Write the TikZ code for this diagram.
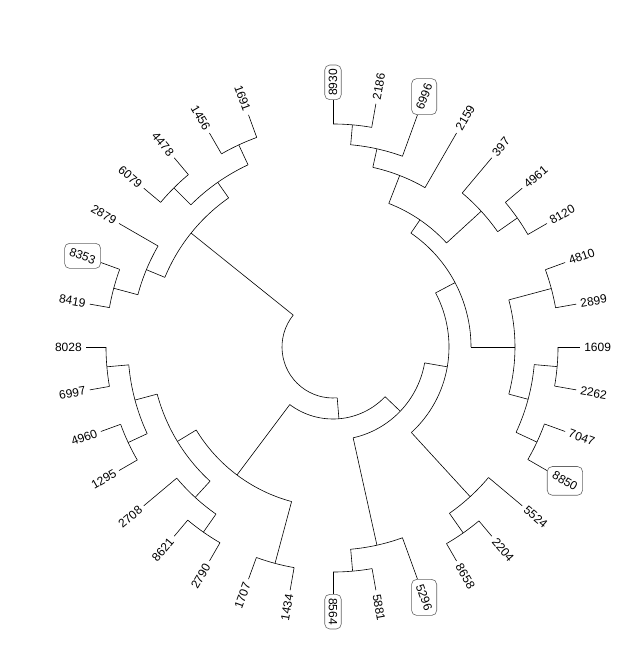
\documentclass[tikz,border=0pt]{standalone}
\usepackage{fontspec}
\setmainfont{Liberation Sans}
\newcommand\tn[4]{\coordinate (#1) at (#2:#3); \coordinate (#1b) at (#2:#4); \draw (#1b) -- (#1);}
\newcommand\tarc[4]{\draw (#1) arc[start angle=#2, end angle=#3, radius=#4];}
\newcommand\leafR[3]{\coordinate (l#3) at (#1:247); \coordinate (l#3b) at (#1:#2); \draw (l#3b) -- (l#3);
  \node[lab, rotate=#1, anchor=west] (t#3) at (#1:251) {#3};}
\newcommand\leafL[3]{\coordinate (l#3) at (#1:247); \coordinate (l#3b) at (#1:#2); \draw (l#3b) -- (l#3);
  \node[lab, rotate=#1+180, anchor=east] (t#3) at (#1:251) {#3};}
\newcommand\leafB[5]{\coordinate (l#3) at (#1:247); \coordinate (l#3b) at (#1:#2); \draw (l#3b) -- (l#3);
  \node[boxlab, anchor=#4] (t#3) at (l#3) {\rotatebox{#5}{#3}};}
\begin{document}
\begin{tikzpicture}[x=1pt,y=1pt,line width=0.6pt,
  lab/.style={inner sep=0pt,font=\fontsize{12}{13}\selectfont},
  boxlab/.style={draw=black!60,rounded corners=5pt,inner sep=4pt,font=\fontsize{12}{13}\selectfont}]
\useasboundingbox (0,0) rectangle (643,-650);
\begin{scope}[shift={(333,-347)}]
% leaves
\leafB{90}{223}{8930}{270}{90}
\leafR{80}{223}{2186}
\leafB{70}{203}{6996}{250}{70}
\leafR{60}{184}{2159}
\leafR{50}{201}{397}
\leafR{40}{225}{4961}
\leafR{30}{225}{8120}
\leafR{20}{226}{4810}
\leafR{10}{226}{2899}
\leafR{0}{225}{1609}
\leafR{-10}{225}{2262}
\leafR{-20}{225}{7047}
\leafB{-30}{225}{8850}{150}{-30}
\leafR{-40}{203}{5524}
\leafR{-50}{227}{2204}
\leafR{-60}{227}{8658}
\leafB{-70}{203}{5296}{110}{-70}
\leafR{-80}{225}{5881}
\leafB{-90}{225}{8564}{90}{-90}
\leafL{-100}{224}{1434}
\leafL{-110}{224}{1707}
\leafL{-120}{226}{2790}
\leafL{-130}{226}{8621}
\leafL{-140}{204}{2708}
\leafL{-150}{226}{1295}
\leafL{-160}{226}{4960}
\leafL{-170}{227}{6997}
\leafL{-180}{227}{8028}
\leafL{170}{227}{8419}
\leafB{160}{227}{8353}{340}{-20}
\leafL{150}{202}{2879}
\leafL{140}{225}{6079}
\leafL{130}{225}{4478}
\leafL{120}{223}{1456}
\leafL{110}{223}{1691}
% internal nodes
\tn{T1}{85}{223}{203}
\tn{T2}{77.5}{203}{184}
\tn{T3}{68.75}{184}{154}
\tn{T4}{35}{225}{201}
\tn{T5}{42.5}{201}{154}
\tn{T6}{55.625}{154}{138}
\tn{P1}{15}{226}{182}
\tn{P2}{-5}{225}{202}
\tn{P3}{-25}{225}{202}
\tn{P4}{-15}{202}{182}
\tn{P5}{0}{182}{138}
\tn{A}{27.8125}{138}{116}
\tn{Q1}{-55}{227}{203}
\tn{C}{-47.5}{203}{116}
\tn{B}{-9.84375}{116}{93}
\tn{S1}{-85}{225}{203}
\tn{D}{-77.5}{203}{93}
\tn{E}{-43.671875}{93}{72}
\tn{J1}{-125}{226}{204}
\tn{J}{-132.5}{204}{182}
\tn{I1}{-175}{227}{205}
\tn{I2}{-155}{226}{205}
\tn{I}{-165}{205}{182}
\tn{H}{-148.75}{182}{160}
\tn{N1}{-105}{224}{160}
\tn{G}{-126.875}{160}{72}
\tn{F}{-85.2734}{72}{51}
\tn{L1}{165}{227}{202}
\tn{L}{157.5}{202}{182}
\tn{M1}{135}{225}{201}
\tn{M2}{115}{223}{201}
\tn{M}{125}{201}{182}
\tn{K}{141.25}{182}{51}
% arcs
\tarc{l8930b}{90}{80}{223}
\tarc{T1b}{85}{70}{203}
\tarc{T2b}{77.5}{60}{184}
\tarc{l4961b}{40}{30}{225}
\tarc{l397b}{50}{35}{201}
\tarc{T3b}{68.75}{42.5}{154}
\tarc{l4810b}{20}{10}{226}
\tarc{l1609b}{0}{-10}{225}
\tarc{l7047b}{-20}{-30}{225}
\tarc{P2b}{-5}{-25}{202}
\tarc{P1b}{15}{-15}{182}
\tarc{T6b}{55.625}{0}{138}
\tarc{l2204b}{-50}{-60}{227}
\tarc{l5524b}{-40}{-55}{203}
\tarc{Ab}{27.8125}{-47.5}{116}
\tarc{l5881b}{-80}{-90}{225}
\tarc{S1b}{-85}{-70}{203}
\tarc{Bb}{-9.84375}{-77.5}{93}
\tarc{l2790b}{-120}{-130}{226}
\tarc{J1b}{-125}{-140}{204}
\tarc{l6997b}{-170}{-180}{227}
\tarc{l1295b}{-150}{-160}{226}
\tarc{I1b}{-175}{-155}{205}
\tarc{Ib}{-165}{-132.5}{182}
\tarc{l1434b}{-100}{-110}{224}
\tarc{Hb}{-148.75}{-105}{160}
\tarc{Gb}{-126.875}{-43.671875}{72}
\tarc{l8419b}{170}{160}{227}
\tarc{L1b}{165}{150}{202}
\tarc{l6079b}{140}{130}{225}
\tarc{l1456b}{120}{110}{223}
\tarc{M1b}{135}{115}{201}
\tarc{Lb}{157.5}{125}{182}
\tarc{Kb}{141.25}{274.7266}{51}
\end{scope}
\end{tikzpicture}
\end{document}
